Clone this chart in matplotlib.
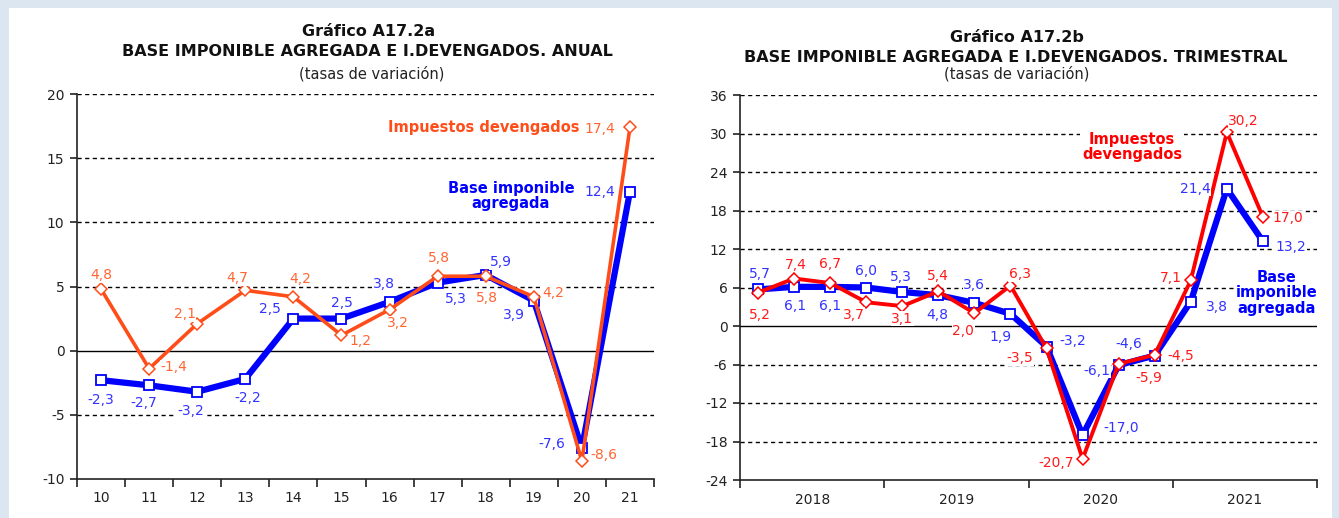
import numpy as np
import matplotlib
matplotlib.use("Agg")
import matplotlib.pyplot as plt
from matplotlib.patches import Rectangle

plt.rcParams['font.family'] = ['DejaVu Sans']
plt.rcParams['axes.unicode_minus'] = False

# annual data (chart a)
years = ['10', '11', '12', '13', '14', '15', '16', '17', '18', '19', '20', '21']
base_anual = [-2.3, -2.7, -3.2, -2.2, 2.5, 2.5, 3.8, 5.3, 5.9, 3.9, -7.6, 12.4]
imp_anual = [4.8, -1.4, 2.1, 4.7, 4.2, 1.2, 3.2, 5.8, 5.8, 4.2, -8.6, 17.4]

# quarterly data (chart b), 2018Q1 .. 2021Q3
year_labels = ['2018', '2019', '2020', '2021']
base_trim = [5.7, 6.1, 6.1, 6.0, 5.3, 4.8, 3.6, 1.9, -3.2, -17.0, -6.1, -4.6, 3.8, 21.4, 13.2]
imp_trim = [5.2, 7.4, 6.7, 3.7, 3.1, 5.4, 2.0, 6.3, -3.5, -20.7, -5.9, -4.5, 7.1, 30.2, 17.0]

# label offsets (points)
off_base_a = [(0, -14), (-4, -13), (-5, -14), (2, -14), (-17, 7), (0, 11), (-4, 13),
              (13, -12), (11, 9), (-14, -10), (-22, 3), (-22, 0)]
off_imp_a = [(0, 10), (18, 1), (-9, 7), (-6, 9), (5, 13), (14, -4), (6, -10),
             (1, 13), (1, -16), (14, 3), (16, 4), (-22, -1)]
off_base_b = [(1, 11), (1, -14), (0, -14), (0, 12), (-1, 11), (-1, -14), (0, 13), (-7, -17),
              (19, 4), (28, 5), (-16, -4), (-19, 8), (19, -4), (-23, 0), (20, -4)]
off_imp_b = [(1, -16), (1, 10), (0, 14), (-9, -9), (0, -9), (0, 11), (-8, -13), (7, 8),
             (-19, -7), (-19, -3), (22, -10), (19, -1), (-14, 2), (12, 8), (18, -1)]

W, H = 1339, 518
fig = plt.figure(figsize=(W / 100, H / 100), dpi=100)
fig.patch.set_facecolor('#dce6f1')
fig.patches.append(Rectangle((9 / W, 0), (1332 - 9) / W, 1 - 8 / H, transform=fig.transFigure,
                             facecolor='white', edgecolor='none', zorder=-1))

BLUE = '#0000ff'
BLUE_T = '#3333ff'
ORANGE = '#ff4d1a'
ORANGE_T = '#ff6633'
RED = '#ff0000'
RED_T = '#ff1a1a'


def fmt(v):
    return ('%.1f' % v).replace('.', ',')


def style_axes(ax, ymin, ymax, step, nslots):
    ax.set_ylim(ymin, ymax)
    ax.set_xlim(-0.5, nslots - 0.5)
    for s in ['top', 'right']:
        ax.spines[s].set_visible(False)
    for s in ['left', 'bottom']:
        ax.spines[s].set_linewidth(1.2)
        ax.spines[s].set_color('#222222')
    ticks = np.arange(ymin, ymax + 0.1, step)
    ax.set_yticks(ticks)
    ax.set_yticklabels(['%d' % t for t in ticks])
    for t in ticks:
        if t == 0:
            ax.axhline(0, color='black', lw=1.0, zorder=1)
        elif t != ymin:
            ax.axhline(t, color='black', lw=1.0, ls=(0, (3, 2.5)), zorder=1)
    ax.tick_params(axis='y', direction='out', length=5, width=1.2, colors='#222222',
                   labelsize=10, pad=4)
    ax.tick_params(axis='x', which='major', length=0, labelsize=10, pad=9, colors='#222222')
    ax.tick_params(axis='x', which='minor', direction='out', length=6, width=1.2, colors='#222222')


def put_labels(ax, xs, vals, offs, color):
    for x, v, (dx, dy) in zip(xs, vals, offs):
        ax.annotate(fmt(v), (x, v), xytext=(dx, dy), textcoords='offset points',
                    ha='center', va='center', fontsize=10, color=color, zorder=5,
                    bbox=dict(boxstyle='square,pad=0.05', fc='white', ec='none'))


# ---- chart a: annual
ax1 = fig.add_axes([77 / W, 1 - 479 / H, 577 / W, 385 / H])
style_axes(ax1, -10, 20, 5, len(years))
x1 = np.arange(len(years))
ax1.set_xticks(x1)
ax1.set_xticklabels(years)
ax1.set_xticks(np.arange(-0.5, len(years), 1), minor=True)
ax1.plot(x1, base_anual, color=BLUE, lw=4.5, marker='s', ms=7.5, mfc='white', mec=BLUE,
         mew=1.3, zorder=3)
ax1.plot(x1, imp_anual, color=ORANGE, lw=2.6, marker='D', ms=6.5, mfc='white', mec=ORANGE,
         mew=1.1, zorder=4)
put_labels(ax1, x1, base_anual, off_base_a, BLUE_T)
put_labels(ax1, x1, imp_anual, off_imp_a, ORANGE_T)
ax1.text(580 / W, 1 - 127 / H, 'Impuestos devengados', transform=fig.transFigure, ha='right',
         va='center', fontsize=10.5, fontweight='bold', color=ORANGE)
ax1.text(511 / W, 1 - 196 / H, 'Base imponible\nagregada', transform=fig.transFigure,
         ha='center', va='center', fontsize=10.5, fontweight='bold', color=BLUE,
         linespacing=1.05)

fig.text(369 / W, 1 - 32 / H, 'Gráfico A17.2a', ha='center', va='center', fontsize=11.5,
         fontweight='bold', color='#111111')
fig.text(367 / W, 1 - 51 / H, 'BASE IMPONIBLE AGREGADA E I.DEVENGADOS. ANUAL', ha='center',
         va='center', fontsize=11.5, fontweight='bold', color='#111111')
fig.text(372 / W, 1 - 74 / H, '(tasas de variación)', ha='center', va='center', fontsize=10.5,
         color='#222222')

# ---- chart b: quarterly
nq = 16
ax2 = fig.add_axes([740 / W, 1 - 480 / H, 577 / W, 385 / H])
style_axes(ax2, -24, 36, 6, nq)
x2 = np.arange(len(base_trim))
ax2.set_xticks(np.arange(1.5, nq, 4))
ax2.set_xticklabels(year_labels)
ax2.set_xticks(np.arange(-0.5, nq, 4), minor=True)
ax2.plot(x2, base_trim, color=BLUE, lw=4.5, marker='s', ms=7.5, mfc='white', mec=BLUE,
         mew=1.3, zorder=3)
ax2.plot(x2, imp_trim, color=RED, lw=2.8, marker='D', ms=6.5, mfc='white', mec=RED,
         mew=1.1, zorder=4)
put_labels(ax2, x2, base_trim, off_base_b, BLUE_T)
put_labels(ax2, x2, imp_trim, off_imp_b, RED_T)
ax2.text(1132 / W, 1 - 147 / H, 'Impuestos\ndevengados', transform=fig.transFigure,
         ha='center', va='center', fontsize=10.5, fontweight='bold', color=RED, zorder=6,
         linespacing=1.05, bbox=dict(boxstyle='square,pad=0.15', fc='white', ec='none'))
ax2.text(1277 / W, 1 - 293 / H, 'Base\nimponible\nagregada', transform=fig.transFigure,
         ha='center', va='center', fontsize=10.5, fontweight='bold', color=BLUE, zorder=6,
         linespacing=1.0, bbox=dict(boxstyle='square,pad=0.15', fc='white', ec='none'))

fig.text(1017 / W, 1 - 38 / H, 'Gráfico A17.2b', ha='center', va='center', fontsize=11.5,
         fontweight='bold', color='#111111')
fig.text(1016 / W, 1 - 58 / H, 'BASE IMPONIBLE AGREGADA E I.DEVENGADOS. TRIMESTRAL',
         ha='center', va='center', fontsize=11.5, fontweight='bold', color='#111111')
fig.text(1017 / W, 1 - 74 / H, '(tasas de variación)', ha='center', va='center', fontsize=10.5,
         color='#222222')

fig.savefig('out.png', dpi=100, facecolor=fig.get_facecolor())
